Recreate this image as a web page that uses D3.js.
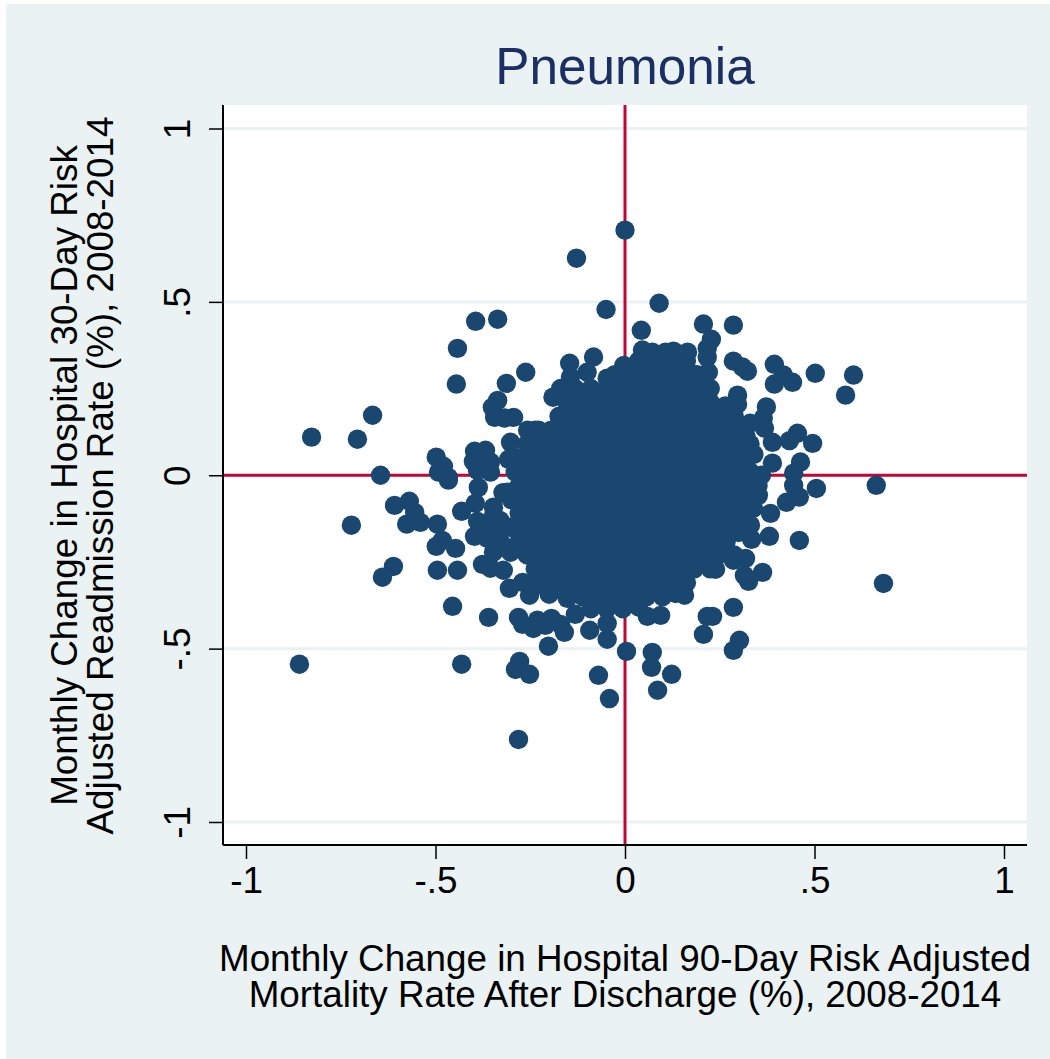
<!DOCTYPE html>
<meta charset="utf-8">
<script src="https://d3js.org/d3.v7.min.js"></script>
<style>
  html, body { margin: 0; padding: 0; background: white; }
  text { font-family: "Liberation Sans", Arial, sans-serif; fill: #000; }
</style>
<div id="my_dataviz"></div>
<script>

var chartTitle = "Pneumonia";
var xTitleLines = ["Monthly Change in Hospital 90-Day Risk Adjusted", "Mortality Rate After Discharge (%), 2008-2014"];
var yTitleLines = ["Monthly Change in Hospital 30-Day Risk", "Adjusted Readmission Rate (%), 2008-2014"];
var tickValues = [-1, -0.5, 0, 0.5, 1];
var tickLabels = ["-1", "-.5", "0", ".5", "1"];

// Points that can be told apart [x, y]
var outerPoints = [
  [0,.707],[.09,.496],[-.05,.478],[.043,.418],[.207,.436],[.286,.433],[.228,.392],[.217,.366],[.217,.34],[.22,.297],
  [.19,.29],[.286,.329],[.31,.312],[.323,.30],[.394,.32],[.394,.263],[.442,.268],[.418,.289],[.502,.294],[.603,.289],
  [.582,.231],[.297,.231],[.297,.205],[.373,.197],[.365,.165],[.368,.136],[.455,.121],[.434,.10],[.495,.092],[.389,.095],
  [.463,.038],[.389,.035],[.445,.006],[.34,.06],[.36,0],[.046,.361],[.072,.355],[.107,.355],[.128,.358],[.165,.355],
  [-.003,.317],[-.047,.28],[-.083,.341],[-.1,.297],[-.128,.626],[-.394,.444],[-.336,.45],[-.442,.366],[-.445,.263],[-.313,.265],
  [-.262,.297],[-.146,.323],[-.144,.283],[-.17,.25],[-.19,.225],[-.157,.225],[-.336,.216],[-.35,.196],[-.344,.167],[-.294,.167],
  [-.318,.165],[-.257,.13],[-.228,.13],[-.302,.095],[-.307,.046],[-.666,.173],[-.706,.104],[-.827,.11],[-.645,0],[-.498,.052],
  [-.479,.026],[-.492,.009],[-.466,-.006],[-.397,.069],[-.368,.072],[-.4,.04],[-.355,.038],[-.389,.014],[-.355,.009],[-.374,.043],
  [-.466,-.014],[-.387,-.035],[-.395,-.081],[-.431,-.104],[-.569,-.075],[-.608,-.087],[-.555,-.107],[-.576,-.141],[-.54,-.136],[-.495,-.141],
  [-.722,-.144],[-.482,-.188],[-.498,-.205],[-.447,-.211],[-.611,-.263],[-.64,-.294],[-.495,-.274],[-.442,-.274],[-.455,-.378],[-.36,-.41],
  [-.859,-.545],[-.431,-.545],[-.278,-.537],[-.289,-.56],[-.252,-.574],[-.281,-.762],[-.202,-.493],[-.281,-.41],[-.27,-.43],[-.242,-.442],
  [-.231,-.418],[-.21,-.433],[-.194,-.413],[-.17,-.43],[-.16,-.453],[-.131,-.401],[-.305,-.326],[-.252,-.346],[-.2,-.343],[-.152,-.355],
  [-.376,-.257],[-.355,-.268],[-.321,-.274],[-.397,-.176],[-.389,-.133],[-.347,-.092],[-.31,-.049],[-.336,-.159],[-.328,-.193],[-.347,-.222],
  [-.27,-.309],[-.29,.01],[.505,-.038],[.663,-.029],[.46,-.063],[.426,-.078],[.445,-.029],[.384,-.11],[.381,-.176],[.46,-.188],
  [.682,-.312],[.363,-.28],[.326,-.306],[.315,-.289],[.318,-.24],[.286,-.245],[.334,-.185],[.3,-.165],[.278,-.113],[.331,-.144],
  [.339,-.095],[.352,-.058],[.239,-.271],[.286,-.381],[.231,-.407],[.217,-.407],[.207,-.459],[.302,-.476],[.286,-.505],[.094,-.404],
  [.059,-.407],[.157,-.346],[.133,-.341],[.088,-.338],[.004,-.508],[.072,-.511],[.07,-.554],[.123,-.574],[.086,-.62],[-.07,-.577],
  [-.041,-.644],[-.047,-.473],[-.093,-.447],[-.047,-.427],[-.004,-.38],
  [-.363,-.144],[-.347,-.115],[-.33,-.13],[-.363,-.182],[-.302,-.222],[-.237,-.27],[-.24,-.32],[-.322,-.05],
  [.225,.25],[.265,.2],[.33,.15],[.32,.11]
];

// The solid middle of the cloud, single points can't be read here so these are estimates
var corePoints = [
  [.036,.33],[.078,.33],[.12,.33],[.162,.33],
  [-.027,.29],[.015,.29],[.057,.29],[.099,.29],[.141,.29],[.183,.29],
  [-.132,.25],[-.09,.25],[-.048,.25],[-.006,.25],[.036,.25],[.078,.25],[.12,.25],[.162,.25],[.204,.25],
  [-.153,.21],[-.111,.21],[-.069,.21],[-.027,.21],[.015,.21],[.057,.21],[.099,.21],[.141,.21],[.183,.21],[.225,.21],
  [-.174,.17],[-.132,.17],[-.09,.17],[-.048,.17],[-.006,.17],[.036,.17],[.078,.17],[.12,.17],[.162,.17],[.204,.17],[.246,.17],[.288,.17],
  [-.237,.13],[-.195,.13],[-.153,.13],[-.111,.13],[-.069,.13],[-.027,.13],[.015,.13],[.057,.13],[.099,.13],[.141,.13],[.183,.13],[.225,.13],[.267,.13],[.309,.13],
  [-.258,.09],[-.216,.09],[-.174,.09],[-.132,.09],[-.09,.09],[-.048,.09],[-.006,.09],[.036,.09],[.078,.09],[.12,.09],[.162,.09],[.204,.09],[.246,.09],[.288,.09],[.33,.09],
  [-.279,.05],[-.237,.05],[-.195,.05],[-.153,.05],[-.111,.05],[-.069,.05],[-.027,.05],[.015,.05],[.057,.05],[.099,.05],[.141,.05],[.183,.05],[.225,.05],[.267,.05],[.309,.05],
  [-.258,.01],[-.216,.01],[-.174,.01],[-.132,.01],[-.09,.01],[-.048,.01],[-.006,.01],[.036,.01],[.078,.01],[.12,.01],[.162,.01],[.204,.01],[.246,.01],[.288,.01],[.33,.01],
  [-.279,-.03],[-.237,-.03],[-.195,-.03],[-.153,-.03],[-.111,-.03],[-.069,-.03],[-.027,-.03],[.015,-.03],[.057,-.03],[.099,-.03],[.141,-.03],[.183,-.03],[.225,-.03],[.267,-.03],[.309,-.03],[.351,-.03],
  [-.3,-.07],[-.258,-.07],[-.216,-.07],[-.174,-.07],[-.132,-.07],[-.09,-.07],[-.048,-.07],[-.006,-.07],[.036,-.07],[.078,-.07],[.12,-.07],[.162,-.07],[.204,-.07],[.246,-.07],[.288,-.07],[.33,-.07],
  [-.279,-.11],[-.237,-.11],[-.195,-.11],[-.153,-.11],[-.111,-.11],[-.069,-.11],[-.027,-.11],[.015,-.11],[.057,-.11],[.099,-.11],[.141,-.11],[.183,-.11],[.225,-.11],[.267,-.11],[.309,-.11],
  [-.3,-.15],[-.258,-.15],[-.216,-.15],[-.174,-.15],[-.132,-.15],[-.09,-.15],[-.048,-.15],[-.006,-.15],[.036,-.15],[.078,-.15],[.12,-.15],[.162,-.15],[.204,-.15],[.246,-.15],[.288,-.15],
  [-.279,-.19],[-.237,-.19],[-.195,-.19],[-.153,-.19],[-.111,-.19],[-.069,-.19],[-.027,-.19],[.015,-.19],[.057,-.19],[.099,-.19],[.141,-.19],[.183,-.19],[.225,-.19],[.267,-.19],
  [-.258,-.23],[-.216,-.23],[-.174,-.23],[-.132,-.23],[-.09,-.23],[-.048,-.23],[-.006,-.23],[.036,-.23],[.078,-.23],[.12,-.23],[.162,-.23],[.204,-.23],[.246,-.23],[.288,-.23],
  [-.195,-.27],[-.153,-.27],[-.111,-.27],[-.069,-.27],[-.027,-.27],[.015,-.27],[.057,-.27],[.099,-.27],[.141,-.27],[.183,-.27],[.225,-.27],
  [-.216,-.31],[-.174,-.31],[-.132,-.31],[-.09,-.31],[-.048,-.31],[-.006,-.31],[.036,-.31],[.078,-.31],[.12,-.31],[.162,-.31],
  [-.153,-.35],[-.111,-.35],[-.069,-.35],[-.027,-.35],[.015,-.35],[.057,-.35],[.099,-.35],
  [-.09,-.385],[-.048,-.385],[-.006,-.385],[.036,-.38]
];

var width = 1050, height = 1059;
var plot = {left: 223, right: 1027, top: 105, bottom: 845};

var svg = d3.select("#my_dataviz")
    .append("svg")
    .attr("width", width)
    .attr("height", height)
    .style("display", "block");

// Page background and white plot region
svg.append("rect")
    .attr("x", 6).attr("y", 4)
    .attr("width", width - 6).attr("height", height - 4)
    .style("fill", "#eaf2f3");
svg.append("rect")
    .attr("x", plot.left).attr("y", plot.top)
    .attr("width", plot.right - plot.left).attr("height", plot.bottom - plot.top)
    .style("fill", "white");

var x = d3.scaleLinear().domain([-1, 1]).range([246, 1004]);
var y = d3.scaleLinear().domain([-1, 1]).range([822, 128.5]);

// Horizontal grid lines
svg.selectAll(".grid")
    .data(tickValues)
    .enter()
    .append("line")
    .attr("class", "grid")
    .attr("x1", plot.left).attr("x2", plot.right)
    .attr("y1", function(d) { return y(d); })
    .attr("y2", function(d) { return y(d); })
    .style("stroke", "#eaf2f3")
    .style("stroke-width", 3);

// Red reference lines at zero
svg.append("line")
    .attr("x1", plot.left).attr("x2", plot.right)
    .attr("y1", y(0)).attr("y2", y(0))
    .style("stroke", "#c10534").style("stroke-width", 3);
svg.append("line")
    .attr("x1", x(0)).attr("x2", x(0))
    .attr("y1", plot.top).attr("y2", plot.bottom)
    .style("stroke", "#c10534").style("stroke-width", 3);

// Add the dots
svg.append("g")
    .selectAll("circle")
    .data(corePoints.concat(outerPoints))
    .enter()
    .append("circle")
    .attr("cx", function(d) { return x(d[0]); })
    .attr("cy", function(d) { return y(d[1]); })
    .attr("r", 9.7)
    .style("fill", "#1a476f");

// Axes
function tickText(d) { return tickLabels[tickValues.indexOf(d)]; }

var xAxis = svg.append("g")
    .attr("transform", "translate(0," + plot.bottom + ")")
    .call(d3.axisBottom(x).tickValues(tickValues).tickFormat(tickText).tickSize(14).tickSizeOuter(0));
xAxis.select(".domain").attr("d", "M" + plot.left + ",0H" + plot.right).style("stroke-width", 2);
xAxis.selectAll(".tick line").style("stroke-width", 1.5);
xAxis.selectAll(".tick text")
    .attr("y", 48).attr("dy", 0)
    .style("font-size", "36.8px")
    .style("font-family", "'Liberation Sans'");

var yAxis = svg.append("g")
    .attr("transform", "translate(" + plot.left + ",0)")
    .call(d3.axisLeft(y).tickValues(tickValues).tickFormat(tickText).tickSize(14).tickSizeOuter(0));
yAxis.select(".domain").attr("d", "M0," + plot.top + "V" + plot.bottom).style("stroke-width", 2);
yAxis.selectAll(".tick line").style("stroke-width", 1.5);
yAxis.selectAll(".tick text")
    .attr("x", 0).attr("y", 0).attr("dy", 0)
    .attr("text-anchor", "middle")
    .attr("transform", "translate(-33,0) rotate(-90)")
    .style("font-size", "36.8px")
    .style("font-family", "'Liberation Sans'");

// Title and axis titles
svg.append("text")
    .attr("x", 625).attr("y", 84)
    .attr("text-anchor", "middle")
    .style("font-size", "51.3px")
    .style("fill", "#1c2f63")
    .text(chartTitle);

svg.selectAll(".xtitle")
    .data(xTitleLines)
    .enter()
    .append("text")
    .attr("x", 625)
    .attr("y", function(d, i) { return 971 + i * 36; })
    .attr("text-anchor", "middle")
    .style("font-size", "36.8px")
    .text(function(d) { return d; });

svg.selectAll(".ytitle")
    .data(yTitleLines)
    .enter()
    .append("text")
    .attr("text-anchor", "middle")
    .attr("transform", function(d, i) { return "translate(" + (77 + i * 36) + ",475.5) rotate(-90)"; })
    .style("font-size", "36.8px")
    .text(function(d) { return d; });

</script>
